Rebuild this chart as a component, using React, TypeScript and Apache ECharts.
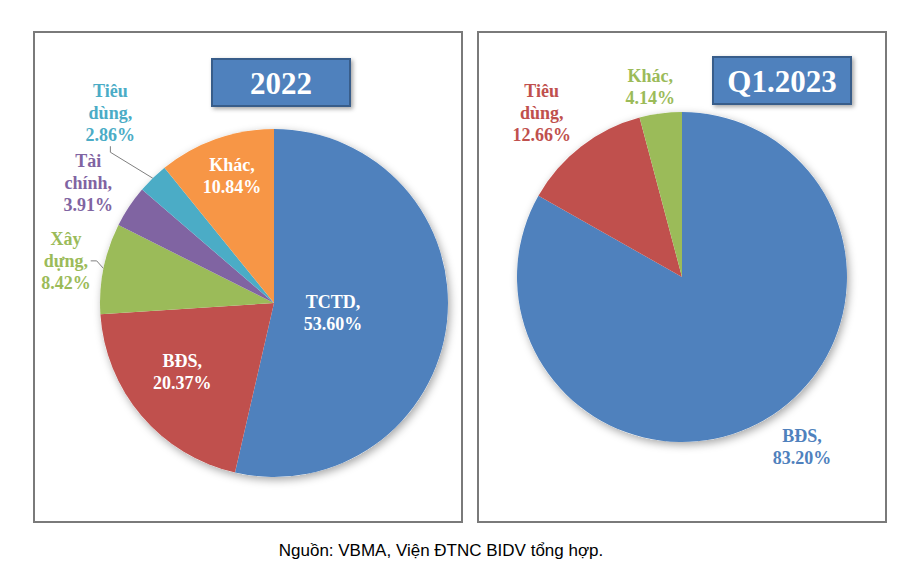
import React, { useEffect, useRef } from 'react';
import * as echarts from 'echarts';

const names2022 = ['TCTD', 'BĐS', 'Xây dựng', 'Tài chính', 'Tiêu dùng', 'Khác'];
const values2022 = [53.6, 20.37, 8.42, 3.91, 2.86, 10.84];
const colors2022 = ['#4F81BD', '#C0504D', '#9BBB59', '#8064A2', '#4BACC6', '#F79646'];
const inside2022 = [true, true, false, false, false, true];
const leader2022 = [false, false, true, false, true, false];

const names2023 = ['BĐS', 'Tiêu dùng', 'Khác'];
const values2023 = [83.2, 12.66, 4.14];
const colors2023 = ['#4F81BD', '#C0504D', '#9BBB59'];

const titleLeft = '2022';
const titleRight = 'Q1.2023';
const sourceText = 'Nguồn: VBMA, Viện ĐTNC BIDV tổng hợp.';

// label placement: [fraction of radius, angle shift in degrees]
const place2022 = [[0.344, 3.1], [0.66, 3.5], [1.22, 0], [1.27, -0.8], [1.44, 3.4], [0.77, 1.2]];
const place2023 = [[1.26, -5], [1.31, -2.8], [1.17, -2]];

const LEFT = { cx: 274, cy: 303, r: 174 };
const RIGHT = { cx: 682, cy: 277, r: 165 };

const SERIF = '"Liberation Serif", "Times New Roman", serif';

function makeLayout(values: number[], place: number[][], g: { cx: number; cy: number; r: number }) {
  const total = values.reduce((a, b) => a + b, 0);
  const mids: number[] = [];
  let acc = 0;
  values.forEach((v) => {
    mids.push(((acc + v / 2) / total) * 360);
    acc += v;
  });
  return (p: any) => {
    const i = p.dataIndex;
    const ang = ((mids[i] + place[i][1]) * Math.PI) / 180;
    const d = place[i][0] * g.r;
    return {
      x: g.cx + d * Math.sin(ang),
      y: g.cy - d * Math.cos(ang),
      align: 'center',
      verticalAlign: 'middle',
    };
  };
}

function fmt(p: any) {
  return p.name.replace(' ', '\n') + ',\n' + Number(p.value).toFixed(2) + '%';
}

function shadowSeries(g: { cx: number; cy: number; r: number }) {
  return {
    type: 'pie',
    silent: true,
    center: [g.cx, g.cy],
    radius: g.r,
    z: 1,
    label: { show: false },
    labelLine: { show: false },
    itemStyle: {
      color: '#ffffff',
      shadowBlur: 8,
      shadowOffsetX: 2,
      shadowOffsetY: 3,
      shadowColor: 'rgba(0,0,0,0.35)',
    },
    data: [{ value: 1, name: '' }],
    tooltip: { show: false },
  };
}

export default function App() {
  const ref = useRef<HTMLDivElement>(null);
  useEffect(() => {
    if (!ref.current) return;
    const chart = echarts.init(ref.current, null, { renderer: 'svg' });
    const labelBase = {
      fontFamily: SERIF,
      fontWeight: 'bold',
      fontSize: 18,
      lineHeight: 22,
      align: 'center',
    };
    const data2022 = names2022.map((n, i) => ({
      name: n,
      value: values2022[i],
      itemStyle: { color: colors2022[i] },
      label: {
        ...labelBase,
        position: inside2022[i] ? 'inside' : 'outside',
        color: inside2022[i] ? '#ffffff' : colors2022[i],
      },
      labelLine: {
        show: leader2022[i],
        length: 8,
        length2: 6,
        lineStyle: { color: '#7F7F7F', width: 1 },
      },
    }));
    const data2023 = names2023.map((n, i) => ({
      name: n,
      value: values2023[i],
      itemStyle: { color: colors2023[i] },
      label: { ...labelBase, position: 'outside', color: colors2023[i] },
      labelLine: { show: false },
    }));
    const box = (x: number, y: number, w: number, h: number, text: string) => ({
      type: 'group',
      children: [
        {
          type: 'rect',
          shape: { x, y, width: w, height: h },
          style: {
            fill: '#4F81BD',
            stroke: '#385D8A',
            lineWidth: 2,
            shadowBlur: 4,
            shadowOffsetX: 2,
            shadowOffsetY: 2,
            shadowColor: 'rgba(0,0,0,0.35)',
          },
          z: 10,
        },
        {
          type: 'text',
          x: x + w / 2,
          y: y + h / 2 + 1,
          style: {
            text,
            fill: '#ffffff',
            font: `bold 31px ${SERIF}`,
            textAlign: 'center',
            textVerticalAlign: 'middle',
          },
          z: 11,
        },
      ],
    });
    chart.setOption({
      animation: false,
      backgroundColor: '#ffffff',
      graphic: [
        {
          type: 'rect',
          shape: { x: 34, y: 32, width: 428, height: 490 },
          style: { fill: 'none', stroke: '#7A7A7A', lineWidth: 2 },
          z: 0,
        },
        {
          type: 'rect',
          shape: { x: 478, y: 32, width: 408, height: 490 },
          style: { fill: 'none', stroke: '#7A7A7A', lineWidth: 2 },
          z: 0,
        },
        box(212, 59, 138, 47, titleLeft),
        box(713, 57, 138, 47, titleRight),
        {
          type: 'text',
          x: 441,
          y: 550,
          style: {
            text: sourceText,
            fill: '#000000',
            font: '17px "Liberation Sans", Arial, sans-serif',
            textAlign: 'center',
            textVerticalAlign: 'middle',
          },
        },
      ],
      series: [
        shadowSeries(LEFT),
        {
          type: 'pie',
          center: [LEFT.cx, LEFT.cy],
          radius: LEFT.r,
          startAngle: 90,
          clockwise: true,
          avoidLabelOverlap: false,
          z: 2,
          itemStyle: { borderWidth: 0 },
          label: { formatter: fmt },
          labelLayout: makeLayout(values2022, place2022, LEFT),
          emphasis: { disabled: true },
          data: data2022,
        },
        shadowSeries(RIGHT),
        {
          type: 'pie',
          center: [RIGHT.cx, RIGHT.cy],
          radius: RIGHT.r,
          startAngle: 90,
          clockwise: true,
          avoidLabelOverlap: false,
          z: 2,
          itemStyle: { borderWidth: 0 },
          label: { formatter: fmt },
          labelLayout: makeLayout(values2023, place2023, RIGHT),
          emphasis: { disabled: true },
          data: data2023,
        },
      ],
    });
    return () => chart.dispose();
  }, []);
  return (
    <div
      ref={ref}
      style={{ position: 'absolute', left: 0, top: 0, width: 906, height: 570 }}
    />
  );
}
